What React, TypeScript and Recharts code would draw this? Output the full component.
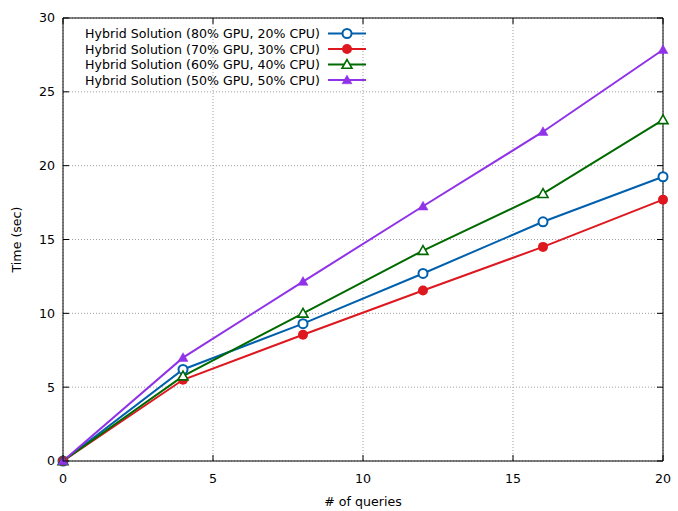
import { LineChart, Line, XAxis, YAxis, CartesianGrid } from "recharts";

const queries = [0, 4, 8, 12, 16, 20];
const gpu80 = [0, 6.2, 9.3, 12.7, 16.2, 19.25];
const gpu70 = [0, 5.5, 8.55, 11.55, 14.5, 17.7];
const gpu60 = [0, 5.75, 10.0, 14.25, 18.1, 23.1];
const gpu50 = [0, 7.0, 12.15, 17.25, 22.3, 27.85];

const xTicks = [0, 5, 10, 15, 20];
const yTicks = [0, 5, 10, 15, 20, 25, 30];

const series = [
  { key: "gpu80", name: "Hybrid Solution (80% GPU, 20% CPU)", color: "#0060ad", shape: "circle", filled: false },
  { key: "gpu70", name: "Hybrid Solution (70% GPU, 30% CPU)", color: "#dd181f", shape: "circle", filled: true },
  { key: "gpu60", name: "Hybrid Solution (60% GPU, 40% CPU)", color: "#006a00", shape: "triangle", filled: false },
  { key: "gpu50", name: "Hybrid Solution (50% GPU, 50% CPU)", color: "#9032e8", shape: "triangle", filled: true },
];

const data = queries.map((q, i) => ({
  q,
  gpu80: gpu80[i],
  gpu70: gpu70[i],
  gpu60: gpu60[i],
  gpu50: gpu50[i],
}));

const FS = 12.6;
const TICK = 6;
const XM = 13; // bottom tick label gap
const YM = 8; // left tick label gap

function Marker({ cx, cy, color, shape, filled }: any) {
  if (cx == null || cy == null) return null;
  if (shape === "circle") {
    return (
      <circle
        cx={cx}
        cy={cy}
        r={filled ? 5 : 4.5}
        fill={filled ? color : "#fff"}
        stroke={color}
        strokeWidth={filled ? 0 : 2}
      />
    );
  }
  const s = 5;
  const pts = `${cx},${cy - s} ${cx - s},${cy + s * 0.75} ${cx + s},${cy + s * 0.75}`;
  return (
    <polygon
      points={pts}
      fill={filled ? color : "#fff"}
      stroke={color}
      strokeWidth={filled ? 0.5 : 1.6}
    />
  );
}

// inward tick marks, gnuplot style
const BottomTick = ({ x, y, payload }: any) => (
  <g>
    <line x1={x} x2={x} y1={y - XM} y2={y - XM - TICK} stroke="#000" />
    <text x={x} y={y} dy="0.71em" textAnchor="middle" fontSize={FS} fill="#000">
      {payload.value}
    </text>
  </g>
);
const LeftTick = ({ x, y, payload }: any) => (
  <g>
    <line x1={x + YM} x2={x + YM + TICK} y1={y} y2={y} stroke="#000" />
    <text x={x} y={y} dy="0.355em" textAnchor="end" fontSize={FS} fill="#000">
      {payload.value}
    </text>
  </g>
);
const TopTick = ({ x, y }: any) => <line x1={x} x2={x} y1={y} y2={y + TICK} stroke="#000" />;
const RightTick = ({ x, y }: any) => <line x1={x} x2={x - TICK} y1={y} y2={y} stroke="#000" />;

function LegendBox() {
  return (
    <svg width={300} height={70} style={{ position: "absolute", left: 70, top: 24 }}>
      {series.map((s, i) => {
        const y = 9.5 + i * 15.5;
        return (
          <g key={s.key}>
            <text x={250} y={y} dy="0.36em" textAnchor="end" fontSize={FS} fill="#000" fontFamily="DejaVu Sans">
              {s.name}
            </text>
            <line x1={258} x2={296} y1={y} y2={y} stroke={s.color} strokeWidth={2} />
            <Marker cx={277} cy={y} color={s.color} shape={s.shape} filled={s.filled} />
          </g>
        );
      })}
    </svg>
  );
}

export default function App() {
  return (
    <div style={{ position: "absolute", left: 0, top: 0, width: 678, height: 511, fontFamily: "DejaVu Sans" }}>
      <LineChart
        width={678}
        height={511}
        data={data}
        margin={{ top: 17, right: 14, bottom: 19, left: 0 }}
        style={{ fontFamily: "DejaVu Sans" }}
      >
        <CartesianGrid xAxisId="b" yAxisId="l" stroke="#a0a0a0" strokeDasharray="1 2" />
        <XAxis
          xAxisId="b"
          dataKey="q"
          type="number"
          domain={[0, 20]}
          ticks={xTicks}
          height={31}
          stroke="#000"
          tickSize={0}
          tickLine={false}
          tickMargin={XM}
          tick={<BottomTick />}
          label={{ value: "# of queries", position: "bottom", offset: 5, fill: "#000", fontSize: FS }}
        />
        <XAxis
          xAxisId="t"
          dataKey="q"
          type="number"
          orientation="top"
          domain={[0, 20]}
          ticks={xTicks}
          height={1}
          stroke="#000"
          tickSize={0}
          tickLine={false}
          tickMargin={0}
          tick={<TopTick />}
        />
        <YAxis
          yAxisId="l"
          type="number"
          domain={[0, 30]}
          ticks={yTicks}
          width={63}
          stroke="#000"
          tickSize={0}
          tickLine={false}
          tickMargin={YM}
          tick={<LeftTick />}
          label={{
            value: "Time (sec)",
            angle: -90,
            position: "insideLeft",
            offset: 17,
            fill: "#000",
            fontSize: FS,
            style: { textAnchor: "middle" },
          }}
        />
        <YAxis
          yAxisId="r"
          type="number"
          orientation="right"
          domain={[0, 30]}
          ticks={yTicks}
          width={1}
          stroke="#000"
          tickSize={0}
          tickLine={false}
          tickMargin={0}
          tick={<RightTick />}
        />
        {/* invisible series so the mirrored top/right axes get drawn */}
        <Line
          xAxisId="t"
          yAxisId="r"
          dataKey="gpu80"
          stroke="none"
          dot={false}
          activeDot={false}
          legendType="none"
          isAnimationActive={false}
        />
        {series.map((s) => (
          <Line
            key={s.key}
            xAxisId="b"
            yAxisId="l"
            dataKey={s.key}
            name={s.name}
            type="linear"
            stroke={s.color}
            strokeWidth={2}
            isAnimationActive={false}
            dot={(p: any) => (
              <Marker key={`${s.key}-${p.index}`} cx={p.cx} cy={p.cy} color={s.color} shape={s.shape} filled={s.filled} />
            )}
          />
        ))}
      </LineChart>
      <LegendBox />
    </div>
  );
}
